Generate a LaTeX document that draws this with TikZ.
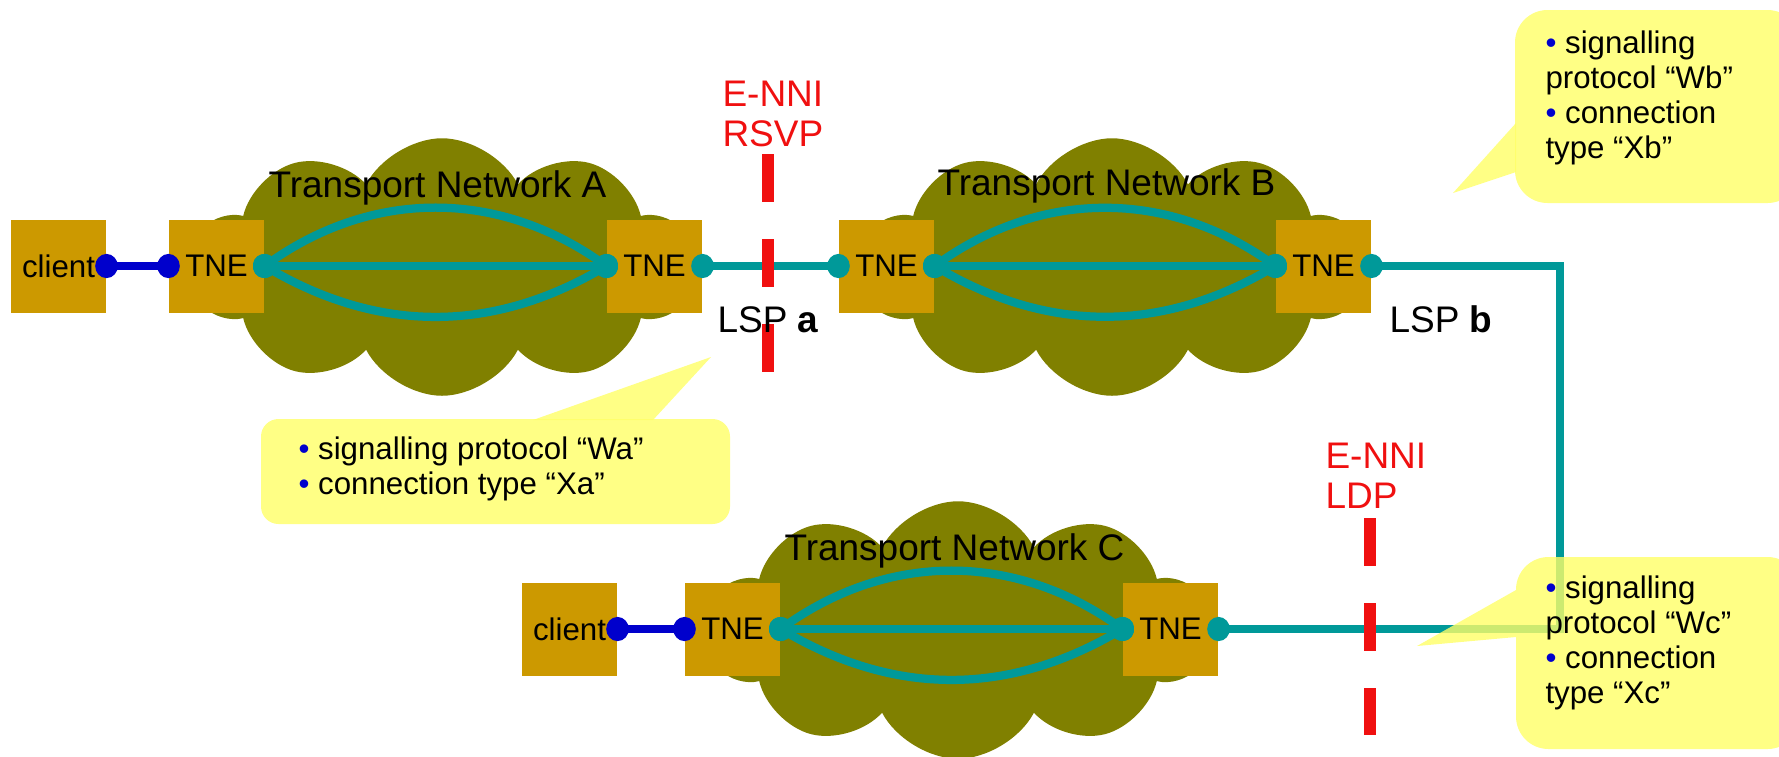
\documentclass[tikz,border=0pt]{standalone}
\usepackage{fontspec}
\setmainfont{Liberation Sans}
\usepackage{xcolor}
\usetikzlibrary{positioning,
        shapes.symbols,
        arrows.meta}

\definecolor{tnegold}{HTML}{CC9900}
\definecolor{netolive}{HTML}{808000}
\definecolor{lspteal}{HTML}{009999}
\definecolor{uniblue}{HTML}{0000CC}
\definecolor{ennired}{RGB}{240,16,16}
\definecolor{noteyellow}{HTML}{FFFF66}

\newcommand{\bluebullet}{{\color{uniblue}\textbullet}}

\tikzset{
    netbox/.style={rectangle, fill=tnegold, inner sep=0pt, minimum width=38pt, minimum height=37.2pt,
        font=\fontsize{12.5}{15}\selectfont},
    netcloud/.style={cloud, cloud puffs=10, cloud puff arc=125, cloud ignores aspect, fill=netolive,
        inner sep=0pt, minimum width=200pt, minimum height=103pt},
    dotends/.style={{Circle[length=9pt,width=9.6pt]}-{Circle[length=9pt,width=9.6pt]},
        shorten <=-4.5pt, shorten >=-4.5pt},
    lsp/.style={draw=lspteal, line width=3.3pt, dotends},
    unilink/.style={draw=uniblue, line width=3.3pt, dotends},
    enniline/.style={draw=ennired, line width=4.8pt, dash pattern=on 19.2pt off 14.8pt},
    biglabel/.style={inner sep=0pt, font=\fontsize{14.8}{16}\selectfont, align=left},
    notetext/.style={inner sep=0pt, font=\fontsize{12.5}{14}\selectfont, align=left},
    notefill/.style={fill=noteyellow, fill opacity=0.8}
}

\begin{document}
\begin{tikzpicture}[x=0.4pt,y=-0.4pt]
            \useasboundingbox (0,0) rectangle (1779,756);

            \node [netcloud] (cloudA) at (442,267) {};
            \node [netcloud] (cloudB) at (1112,267) {};
            \node [netcloud] (cloudC) at (958,630) {};

            \node [biglabel, anchor=base] (titleA) at (437.5,197) {Transport Network A};
            \node [biglabel, anchor=base] (titleB) at (1106.5,195) {Transport Network B};
            \node [biglabel, anchor=base] (titleC) at (954.5,560) {Transport Network C};

            \node [netbox] (clientA) at (58.5,266) {client};
            \node [netbox] (tneA1) at (216.5,266) {TNE};
            \node [netbox] (tneA2) at (654.5,266) {TNE};
            \node [netbox] (tneB1) at (886.5,266) {TNE};
            \node [netbox] (tneB2) at (1323.5,266) {TNE};
            \node [netbox] (clientC) at (569.5,629) {client};
            \node [netbox] (tneC1) at (732.5,629) {TNE};
            \node [netbox] (tneC2) at (1170.5,629) {TNE};

            \draw [lsp] (tneA1.east) -- (tneA2.west);
            \draw [lsp] (tneA1.east) to[out=35,in=145] (tneA2.west);
            \draw [lsp] (tneA1.east) to[out=-30,in=-150] (tneA2.west);
            \draw [lsp] (tneB1.east) -- (tneB2.west);
            \draw [lsp] (tneB1.east) to[out=35,in=145] (tneB2.west);
            \draw [lsp] (tneB1.east) to[out=-30,in=-150] (tneB2.west);
            \draw [lsp] (tneC1.east) -- (tneC2.west);
            \draw [lsp] (tneC1.east) to[out=35,in=145] (tneC2.west);
            \draw [lsp] (tneC1.east) to[out=-30,in=-150] (tneC2.west);

            \draw [unilink] (clientA.east) -- (tneA1.west);
            \draw [unilink] (clientC.east) -- (tneC1.west);
            \coordinate (bend) at (1560,266);
            \draw [lsp] (tneA2.east) -- (tneB1.west);
            \draw [lsp] (tneB2.east) -- (bend) |- (tneC2.east);

            \draw [enniline] (768,154) -- (768,372);
            \draw [enniline] (1370,518) -- (1370,735);

            \node [biglabel, text=ennired, anchor=base west] (enniA) at (722,146) {E-NNI\\RSVP};
            \node [biglabel, text=ennired, anchor=base west] (enniC) at (1325,508) {E-NNI\\LDP};
            \node [biglabel, anchor=base west] (lspA) at (717,332) {LSP \textbf{a}};
            \node [biglabel, anchor=base west] (lspB) at (1389,332) {LSP \textbf{b}};

            \fill [notefill, rounded corners=7pt] (261,419) rectangle (730,524);
            \fill [notefill] (533,420) -- (711,357) -- (653,420) -- cycle;
            \fill [notefill, rounded corners=13pt] (1515,10) rectangle (1800,203);
            \fill [notefill] (1516,123) -- (1453,193) -- (1516,172) -- cycle;
            \begin{scope}[transparency group, opacity=0.8]
                \fill [fill=noteyellow, rounded corners=13pt] (1516,557) rectangle (1800,749);
                \fill [fill=noteyellow] (1516,590) -- (1417,646) -- (1516,637) -- cycle;
            \end{scope}

            \node [notetext, anchor=base west] (noteA) at (298,494) {\bluebullet{} signalling protocol “Wa”\\\bluebullet{} connection type “Xa”};
            \node [notetext, anchor=base west] (noteB) at (1545,158) {\bluebullet{} signalling\\protocol “Wb”\\\bluebullet{} connection\\type “Xb”};
            \node [notetext, anchor=base west] (noteC) at (1545,703) {\bluebullet{} signalling\\protocol “Wc”\\\bluebullet{} connection\\type “Xc”};
        \end{tikzpicture}
\end{document}
